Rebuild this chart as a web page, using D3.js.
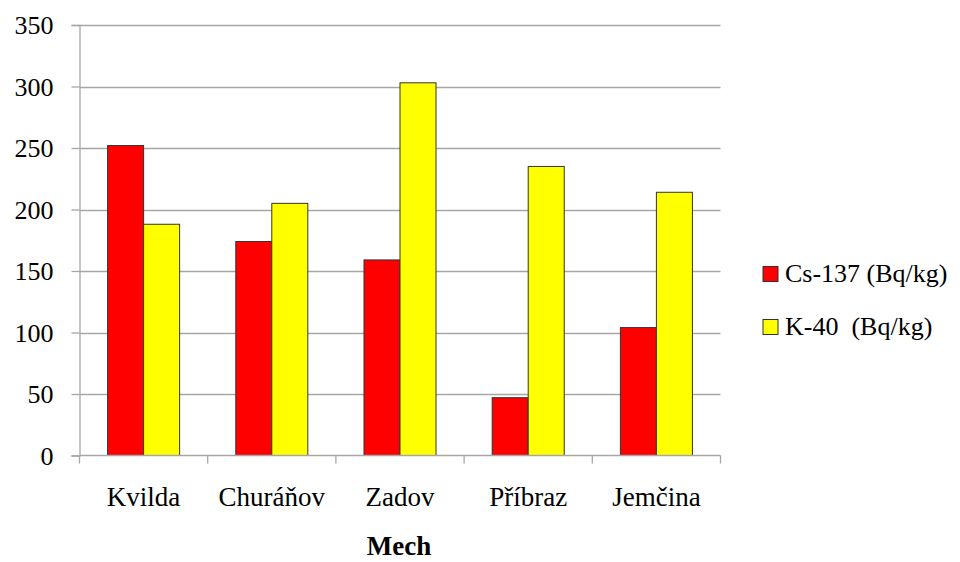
<!DOCTYPE html>
<html>
<head>
<meta charset="utf-8">
<script src="https://cdn.jsdelivr.net/npm/d3@7/dist/d3.min.js"></script>
</head>
<body style="margin:0;padding:0;background:#fff">
<svg id="chart" width="960" height="562" font-family="Liberation Serif"></svg>
<script>
// Activity of radionuclides in moss samples by locality
const categories = ["Kvilda", "Churáňov", "Zadov", "Příbraz", "Jemčina"];
const seriesNames = ["Cs-137 (Bq/kg)", "K-40  (Bq/kg)"];
const cs137 = [252, 174, 159, 47, 104];
const k40 = [188, 205, 303, 235, 214];
const seriesColors = ["#ff0000", "#ffff00"];
const yTicks = [0, 50, 100, 150, 200, 250, 300, 350];
const xTitle = "Mech";

const FONT = "Liberation Serif";
const FS = 26;
const series = [cs137, k40];
const svg = d3.select("#chart");

const plotLeft = 79.5, plotRight = 720.5, plotTop = 25, plotBottom = 455.5;

const x0 = d3.scaleBand().domain(categories).range([plotLeft, plotRight]).paddingInner(0).paddingOuter(0);
const x1 = d3.scaleBand().domain(d3.range(series.length)).range([0, x0.bandwidth()])
  .paddingInner(0).paddingOuter(0.78);
const y = d3.scaleLinear().domain([0, 350]).range([plotBottom, plotTop]);

// horizontal gridlines
svg.append("g").selectAll("line").data(yTicks.filter(d => d > 0)).join("line")
  .attr("x1", plotLeft).attr("x2", plotRight)
  .attr("y1", d => Math.round(y(d)) + 0.5).attr("y2", d => Math.round(y(d)) + 0.5)
  .attr("stroke", "#a6a6a6").attr("stroke-width", 1.3);

// bars
const groups = svg.append("g").selectAll("g").data(categories).join("g")
  .attr("transform", c => `translate(${x0(c)},0)`);
groups.selectAll("rect")
  .data((c, i) => series.map((s, j) => ({ j, v: s[i] })))
  .join("rect")
  .attr("x", d => x1(d.j))
  .attr("width", x1.bandwidth())
  .attr("y", d => y(d.v))
  .attr("height", d => y(0) - y(d.v))
  .attr("fill", d => seriesColors[d.j])
  .attr("stroke", "#333")
  .attr("stroke-width", 1);

// y axis
const yAxis = svg.append("g").attr("transform", `translate(${plotLeft},0)`)
  .call(d3.axisLeft(y).tickValues(yTicks).tickSize(8).tickPadding(18));
yAxis.attr("font-family", FONT).attr("font-size", FS);
yAxis.select(".domain").attr("stroke", "#a6a6a6").attr("stroke-width", 1.3);
yAxis.selectAll(".tick line").attr("stroke", "#a6a6a6").attr("stroke-width", 1.3);
yAxis.selectAll("text")
  .attr("dy", "0.34em")
  .attr("fill", "#000")
  .attr("font-family", FONT)
  .attr("font-size", FS);

// x axis line with ticks at category boundaries
const xAxisG = svg.append("g");
xAxisG.append("line").attr("x1", plotLeft).attr("x2", plotRight).attr("y1", plotBottom).attr("y2", plotBottom)
  .attr("stroke", "#a6a6a6").attr("stroke-width", 1.3);
const bounds = categories.map(c => x0(c)).concat([x0(categories[categories.length - 1]) + x0.bandwidth()]);
xAxisG.selectAll("line.tk").data(bounds).join("line").attr("class", "tk")
  .attr("x1", d => d).attr("x2", d => d).attr("y1", plotBottom).attr("y2", plotBottom + 8)
  .attr("stroke", "#a6a6a6").attr("stroke-width", 1.3);
xAxisG.selectAll("text").data(categories).join("text")
  .attr("x", c => x0(c) + x0.bandwidth() / 2)
  .attr("y", 506)
  .attr("text-anchor", "middle")
  .attr("font-family", FONT)
  .attr("font-size", FS + 1)
  .text(c => c);

// axis title
svg.append("text").attr("x", 399).attr("y", 555).attr("text-anchor", "middle")
  .attr("font-family", FONT).attr("font-size", FS + 1).attr("font-weight", "bold")
  .text(xTitle);

// legend
const legend = svg.append("g");
const legendY = [274, 327];
seriesNames.forEach((name, i) => {
  legend.append("rect").attr("x", 763).attr("y", legendY[i] - 7.5).attr("width", 15).attr("height", 15)
    .attr("fill", seriesColors[i]).attr("stroke", "#333").attr("stroke-width", 1);
  legend.append("text").attr("x", 785).attr("y", legendY[i] + 8)
    .attr("font-family", FONT).attr("font-size", FS)
    .attr("xml:space", "preserve")
    .text(name);
});
</script>
</body>
</html>
